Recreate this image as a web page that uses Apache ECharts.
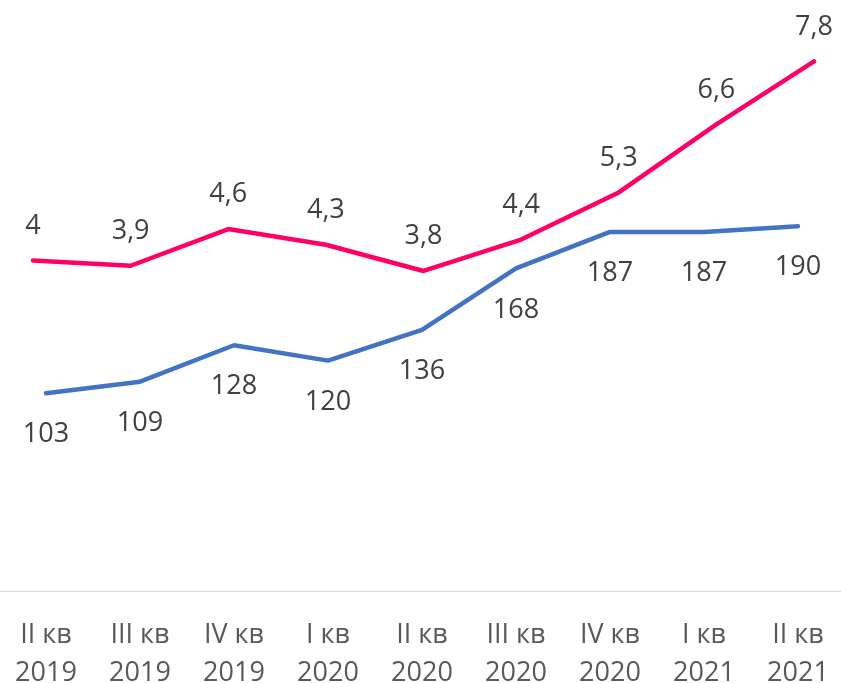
<!DOCTYPE html>
<html>
<head>
<meta charset="utf-8">
<script src="https://cdn.jsdelivr.net/npm/echarts@6/dist/echarts.min.js"></script>
<style>
  html, body { margin: 0; padding: 0; background: #fff; }
  #chart { width: 841px; height: 683px; }
</style>
</head>
<body>
<div id="chart"></div>
<script>
var categories = ['II кв\n2019', 'III кв\n2019', 'IV кв\n2019', 'I кв\n2020', 'II кв\n2020',
                  'III кв\n2020', 'IV кв\n2020', 'I кв\n2021', 'II кв\n2021'];
var blueValues = [103, 109, 128, 120, 136, 168, 187, 187, 190];
var pinkValues = [4, 3.9, 4.6, 4.3, 3.8, 4.4, 5.3, 6.6, 7.8];

var chart = echarts.init(document.getElementById('chart'));

var fontFamily = '"Open Sans", "Noto Sans", sans-serif';

var option = {
    animation: false,
    grid: [
        {left: -1, right: -4, top: 15, bottom: 92, outerBoundsMode: 'none', containLabel: false},
        // the pink line sits on its own hidden axes
        {left: 33, right: 27, top: 51, bottom: 213, outerBoundsMode: 'none', containLabel: false}
    ],
    xAxis: [
        {
            type: 'category',
            gridIndex: 0,
            data: categories,
            boundaryGap: true,
            axisLine: {lineStyle: {color: '#d9d9d9', width: 1}},
            axisTick: {show: false},
            axisLabel: {
                color: '#595959',
                fontSize: 27,
                fontFamily: fontFamily,
                lineHeight: 38,
                margin: 25
            }
        },
        {
            type: 'category',
            gridIndex: 1,
            data: categories,
            boundaryGap: false,
            show: false
        }
    ],
    yAxis: [
        {type: 'value', gridIndex: 0, min: 0, max: 300, show: false, splitLine: {show: false}},
        {type: 'value', gridIndex: 1, min: 0, max: 8, show: false, splitLine: {show: false}}
    ],
    series: [
        {
            type: 'line',
            xAxisIndex: 0,
            yAxisIndex: 0,
            data: blueValues,
            symbol: 'circle',
            symbolSize: 0,
            lineStyle: {color: '#4472c4', width: 4.5, cap: 'round'},
            itemStyle: {color: '#4472c4'},
            label: {
                show: true,
                position: 'bottom',
                distance: 28,
                color: '#404040',
                fontSize: 27,
                fontFamily: fontFamily
            }
        },
        {
            type: 'line',
            xAxisIndex: 1,
            yAxisIndex: 1,
            data: pinkValues,
            symbol: 'circle',
            symbolSize: 0,
            lineStyle: {color: '#ff0066', width: 4.5, cap: 'round'},
            itemStyle: {color: '#ff0066'},
            label: {
                show: true,
                position: 'top',
                distance: 21,
                color: '#404040',
                fontSize: 27,
                fontFamily: fontFamily,
                formatter: function(p) {
                    return String(p.value).replace('.', ',');
                }
            }
        }
    ]
};

chart.setOption(option);
</script>
</body>
</html>
